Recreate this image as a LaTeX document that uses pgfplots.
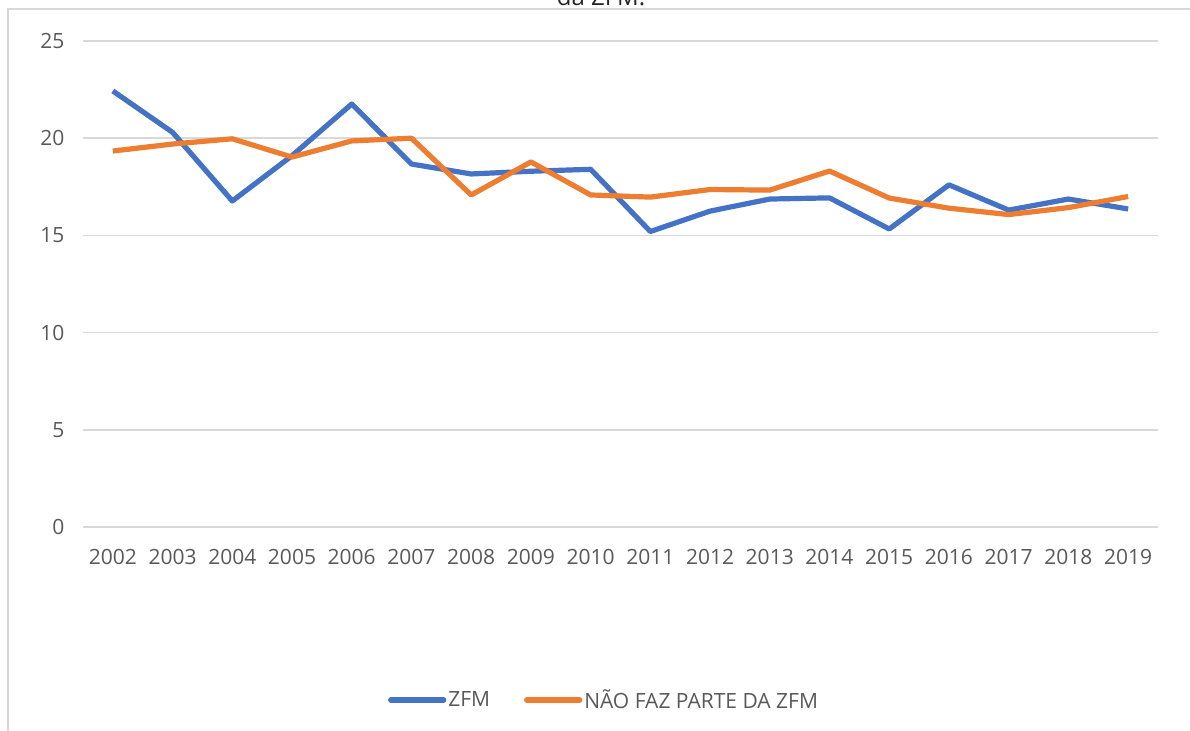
\documentclass[border=0pt]{standalone}
\usepackage{pgfplots}
\pgfplotsset{compat=1.18}
\usepackage{fontspec}
\setmainfont{Open Sans}
\definecolor{zfmblue}{HTML}{4472C4}
\definecolor{zfmorange}{HTML}{ED7D31}
\definecolor{gridgray}{HTML}{D9D9D9}
\definecolor{labelgray}{HTML}{595959}
\begin{document}
\begin{tikzpicture}
\useasboundingbox (0,0) rectangle (1190bp,731bp);
\draw[gridgray, line width=1.5bp] (1190bp,722bp) -- (8bp,722bp) -- (8bp,0);
\node[anchor=base, font=\fontsize{24bp}{28bp}\selectfont, text=black!85] at (601bp,725bp) {da ZFM.};
\begin{axis}[
  scale only axis,
  width=1075bp, height=486bp,
  at={(83bp,204bp)}, anchor=south west,
  xmin=2001.5, xmax=2019.5,
  ymin=0, ymax=25,
  xtick={2002,...,2019},
  ytick={0,5,10,15,20,25},
  /pgf/number format/1000 sep={},
  /pgf/number format/assume math mode=true,
  axis line style={draw=none},
  major tick length=0,
  ymajorgrids,
  grid style={gridgray, line width=1.5bp},
  tick label style={font=\fontsize{21bp}{25bp}\selectfont, text=labelgray},
  yticklabel style={xshift=-15bp},
  xticklabel style={yshift=-19bp},
  clip=false,
  legend columns=2,
  legend style={draw=none, fill=none, at={(0.4847,-0.356)}, anchor=center,
    font=\fontsize{21bp}{25bp}\selectfont, text=labelgray,
    /tikz/every even column/.append style={column sep=32bp},
    inner sep=0pt},
  legend image code/.code={\draw[#1, line cap=round] (0bp,0bp) -- (53bp,0bp);},
]
\addplot[zfmblue, line width=5.2bp, line join=round] coordinates {
(2002,22.43) (2003,20.3) (2004,16.77) (2005,19.1) (2006,21.76) (2007,18.67)
(2008,18.16) (2009,18.3) (2010,18.4) (2011,15.2) (2012,16.25) (2013,16.87)
(2014,16.93) (2015,15.33) (2016,17.6) (2017,16.3) (2018,16.87) (2019,16.36)
};
\addlegendentry{ZFM}
\addplot[zfmorange, line width=5.2bp, line join=round] coordinates {
(2002,19.34) (2003,19.7) (2004,19.97) (2005,19.03) (2006,19.86) (2007,20.0)
(2008,17.08) (2009,18.78) (2010,17.08) (2011,16.97) (2012,17.36) (2013,17.33)
(2014,18.31) (2015,16.92) (2016,16.4) (2017,16.07) (2018,16.43) (2019,17.0)
};
\addlegendentry{NÃO FAZ PARTE DA ZFM}
\end{axis}
\end{tikzpicture}
\end{document}
